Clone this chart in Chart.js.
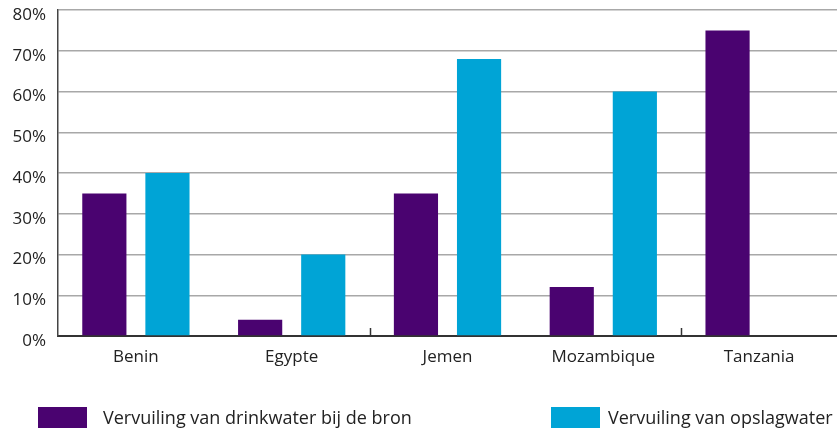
<!DOCTYPE html>
<html>
<head>
<meta charset="utf-8">
<script src="https://cdn.jsdelivr.net/npm/chart.js@4/dist/chart.umd.min.js"></script>
<style>
  html, body { margin: 0; padding: 0; background: #fff; }
  #wrap { position: relative; width: 837px; height: 434px; }
  #c { position: absolute; left: 0; top: 0; }
  .leg { position: absolute; top: 406px; font-family: "Open Sans", sans-serif; font-size: 18px; color: #222; line-height: 22px; display: flex; align-items: center; white-space: nowrap; }
  .leg span.box { display: inline-block; width: 49px; height: 21px; }
</style>
</head>
<body>
<div id="wrap">
  <canvas id="c" width="837" height="434"></canvas>
  <div class="leg" style="left:38px"><span class="box" id="b1" style="margin-right:16px"></span><span id="t1"></span></div>
  <div class="leg" style="left:551px"><span class="box" id="b2" style="margin-right:8px"></span><span id="t2"></span></div>
</div>
<script>
const categories = ["Benin", "Egypte", "Jemen", "Mozambique", "Tanzania"];
const seriesNames = ["Vervuiling van drinkwater bij de bron", "Vervuiling van opslagwater"];
const bronValues = [35, 4, 35, 12, 75];
const opslagValues = [40, 20, 68, 60, 0];
const yTicks = [0, 10, 20, 30, 40, 50, 60, 70, 80];
const colors = ["#4a0370", "#00a4d6"];

document.getElementById('b1').style.background = colors[0];
document.getElementById('b2').style.background = colors[1];
document.getElementById('t1').textContent = seriesNames[0];
document.getElementById('t2').textContent = seriesNames[1];

const sepTicks = {
  id: 'sepTicks',
  afterDatasetsDraw(chart) {
    const ctx = chart.ctx, x = chart.scales.x, bottom = chart.chartArea.bottom;
    ctx.save();
    ctx.strokeStyle = '#333';
    ctx.lineWidth = 1.5;
    [1.5, 3.5].forEach(v => {
      const px = Math.round(x.getPixelForValue(v)) + 0.5;
      ctx.beginPath();
      ctx.moveTo(px, bottom - 8);
      ctx.lineTo(px, bottom);
      ctx.stroke();
    });
    ctx.restore();
  }
};

new Chart(document.getElementById('c'), {
  type: 'bar',
  data: {
    labels: categories,
    datasets: [
      { label: seriesNames[0], data: bronValues, backgroundColor: colors[0], borderWidth: 0 },
      { label: seriesNames[1], data: opslagValues, backgroundColor: colors[1], borderWidth: 0 }
    ]
  },
  options: {
    responsive: false,
    animation: false,
    layout: { padding: { top: 0, right: 0, left: 0, bottom: 0 } },
    datasets: { bar: { categoryPercentage: 0.81, barPercentage: 0.7 } },
    plugins: { legend: { display: false }, tooltip: { enabled: false } },
    scales: {
      x: {
        grid: { display: false, drawTicks: false },
        border: { display: true, color: '#333', width: 2 },
        ticks: { color: '#222', padding: 11, font: { family: 'Open Sans', size: 17 } },
        afterFit(s) { s.height = 98; }
      },
      y: {
        min: 0, max: 80,
        afterBuildTicks(s) { s.ticks = yTicks.map(v => ({ value: v })); },
        grid: { color: '#a8a8a8', lineWidth: 1.5, drawTicks: false },
        border: { display: true, color: '#444', width: 1.5 },
        ticks: { color: '#222', padding: 12, labelOffset: 5, font: { family: 'Open Sans', size: 17 }, callback: v => v + '%' },
        afterFit(s) { s.width = 58; s.paddingTop = 10; s.paddingBottom = 0; }
      }
    }
  },
  plugins: [sepTicks]
});
</script>
</body>
</html>
